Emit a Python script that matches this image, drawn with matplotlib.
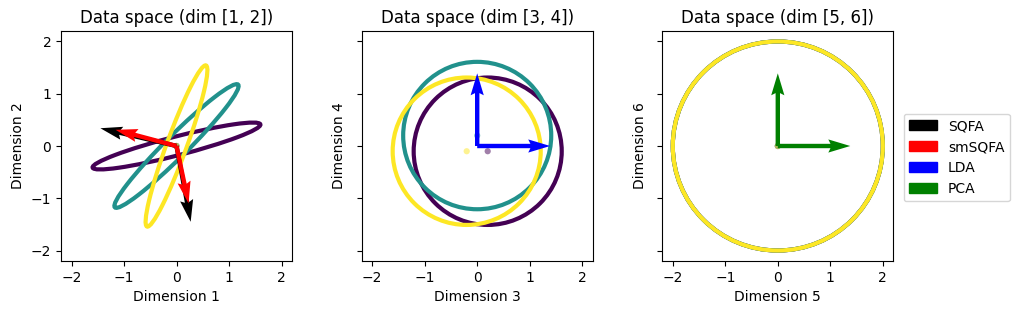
import matplotlib
matplotlib.use("Agg")
import matplotlib.pyplot as plt
import matplotlib.patches as mpatches
import numpy as np

# ---------------- data ----------------
class_colors = ["#440154", "#21918c", "#fde725"]
panel_titles = ["Data space (dim [1, 2])", "Data space (dim [3, 4])", "Data space (dim [5, 6])"]
xlabels = ["Dimension 1", "Dimension 3", "Dimension 5"]
ylabels = ["Dimension 2", "Dimension 4", "Dimension 6"]

# class means per panel (x, y)
means_p1 = [(0.0, 0.0), (0.0, 0.0), (0.0, 0.0)]
means_p2 = [(0.2, -0.1), (0.0, 0.2), (-0.2, -0.1)]
means_p3 = [(0.0, 0.0), (0.0, 0.0), (0.0, 0.0)]

# ellipse semi-axes (major, minor) and angle in degrees per class
semi_major_p1 = [1.65, 1.66, 1.64]
semi_minor_p1 = [0.18, 0.21, 0.19]
angle_p1 = [14.5, 45.0, 70.0]
radius_p2 = [1.41, 1.41, 1.41]
radius_p3 = [2.0, 2.0, 2.0]

# filter vectors (u, v)
sqfa_vecs = [(-1.45, 0.34), (0.27, -1.45)]
smsqfa_vecs = [(-1.16, 0.31), (0.23, -1.10)]
lda_vecs = [(1.39, 0.0), (0.0, 1.39)]
pca_vecs = [(1.38, 0.0), (0.0, 1.39)]

ticks = [-2, -1, 0, 1, 2]
legend_labels = ["SQFA", "smSQFA", "LDA", "PCA"]
legend_colors = ["black", "red", "blue", "green"]

# ---------------- figure ----------------
fig = plt.figure(figsize=(10.16, 3.15), dpi=100)
W, H = 1016, 315
lefts = [61, 361.7, 662.3]
axes = []
for i, l in enumerate(lefts):
    ax = fig.add_axes([l / W, (315 - 261) / H, 231 / W, 230 / H])
    axes.append(ax)


def draw_vectors(ax, vecs, color):
    u = [v[0] for v in vecs]
    v = [v[1] for v in vecs]
    ax.quiver([0] * len(u), [0] * len(u), u, v, color=color, angles="xy",
              scale_units="xy", scale=1, width=0.019, zorder=4)


def draw_means(ax, means):
    ax.scatter([m[0] for m in means], [m[1] for m in means], c=class_colors,
               s=20, alpha=0.5, zorder=3, linewidths=0)


# panel 1
ax = axes[0]
for k in range(3):
    ax.add_patch(mpatches.Ellipse(means_p1[k], 2 * semi_major_p1[k], 2 * semi_minor_p1[k],
                                  angle=angle_p1[k], fill=False, edgecolor=class_colors[k],
                                  linewidth=3, zorder=2))
draw_means(ax, means_p1)
draw_vectors(ax, sqfa_vecs, "black")
draw_vectors(ax, smsqfa_vecs, "red")

# panel 2
ax = axes[1]
for k in range(3):
    ax.add_patch(mpatches.Ellipse(means_p2[k], 2 * radius_p2[k], 2 * radius_p2[k],
                                  fill=False, edgecolor=class_colors[k], linewidth=3, zorder=2))
draw_means(ax, means_p2)
draw_vectors(ax, lda_vecs, "blue")

# panel 3
ax = axes[2]
for k in range(3):
    ax.add_patch(mpatches.Ellipse(means_p3[k], 2 * radius_p3[k], 2 * radius_p3[k],
                                  fill=False, edgecolor=class_colors[k], linewidth=3, zorder=2))
draw_means(ax, means_p3)
draw_vectors(ax, pca_vecs, "green")

for i, ax in enumerate(axes):
    ax.set_xlim(-2.2, 2.2)
    ax.set_ylim(-2.2, 2.2)
    ax.set_xticks(ticks)
    ax.set_yticks(ticks)
    ax.set_title(panel_titles[i], fontsize=12)
    ax.set_xlabel(xlabels[i])
    ax.set_ylabel(ylabels[i])
    if i > 0:
        ax.set_yticklabels([])

handles = [mpatches.Patch(color=c, label=l) for c, l in zip(legend_colors, legend_labels)]
fig.legend(handles=handles, loc="center right", bbox_to_anchor=(1017 / W, 0.5))

fig.savefig("out.png", dpi=100)
